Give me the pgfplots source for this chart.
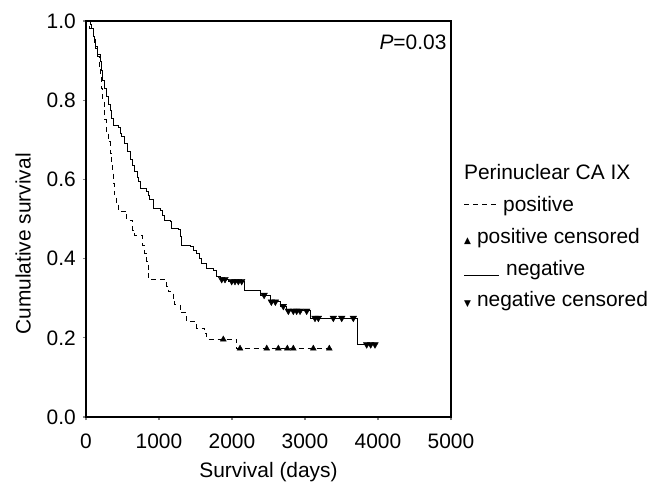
\documentclass[border=0pt]{standalone}
\usepackage{pgfplots}
\pgfplotsset{compat=1.18}
\usepackage{fontspec}
\setmainfont{Liberation Sans}
\newfontfamily\symfont{DejaVu Sans}
\begin{document}
\fontsize{21}{25}\selectfont
\begin{tikzpicture}
\begin{axis}[
  at={(0,0)}, anchor=south west,
  width=365bp, height=396bp, scale only axis,
  xmin=0, xmax=5000, ymin=0, ymax=1,
  xtick={0,1000,2000,3000,4000,5000},
  ytick={0,0.2,0.4,0.6,0.8,1.0},
  xtick pos=left, ytick pos=left,
  tick align=outside, major tick length=3bp,
  tick style={line width=1.2bp},
  axis line style={line width=1.1bp},
  /pgf/number format/assume math mode=true,
  x tick label style={/pgf/number format/1000 sep={}, yshift=-7bp},
  y tick label style={/pgf/number format/.cd, fixed, fixed zerofill, precision=1},
  tick label style={font=\fontsize{21}{25}\selectfont},
  label style={font=\fontsize{21}{25}\selectfont},
  xlabel={Survival (days)},
  ylabel={Cumulative survival},
  xlabel style={at={(axis description cs:0.5,-0.14)}, anchor=center},
  ylabel style={at={(axis description cs:-0.172,0.437)}, anchor=center},
  clip=false,
  legend style={draw=none, fill=none, at={(axis description cs:1.03,0.643)}, anchor=north west,
    font=\fontsize{21}{25}\selectfont, row sep=9.5bp, inner sep=0pt},
  legend cell align=left,
]
\addlegendimage{empty legend}\addlegendentry{Perinuclear CA IX}
\addlegendimage{empty legend}\addlegendentry{\rule[0.3em]{5bp}{1bp}\hspace{4bp}\rule[0.3em]{5bp}{1bp}\hspace{4bp}\rule[0.3em]{5bp}{1bp}\hspace{4bp}\rule[0.3em]{5bp}{1bp}\hspace{7bp}positive}
\addlegendimage{empty legend}\addlegendentry{{\symfont\fontsize{9}{10}\selectfont ▲}\hspace{6bp}positive censored}
\addlegendimage{empty legend}\addlegendentry{\rule[-0.05em]{35bp}{1bp}\hspace{7bp}negative}
\addlegendimage{empty legend}\addlegendentry{{\symfont\fontsize{9}{10}\selectfont ▼}\hspace{6bp}negative censored}

% negative (solid)
\addplot[const plot, black, line width=1bp, forget plot] coordinates {
(0,1.0) (60,0.99) (82,0.98) (100,0.96) (120,0.945) (137,0.93) (160,0.915)
(192,0.897) (210,0.875) (229,0.851) (260,0.83) (284,0.809) (310,0.79)
(329,0.775) (350,0.755) (374,0.737) (443,0.73) (470,0.715) (489,0.708)
(534,0.691) (570,0.67) (603,0.649) (640,0.635) (671,0.62) (700,0.605)
(717,0.594) (740,0.578) (832,0.569) (850,0.56) (867,0.548) (922,0.527)
(1014,0.522) (1050,0.51) (1082,0.497) (1151,0.493) (1174,0.476) (1264,0.474)
(1290,0.455) (1311,0.434) (1425,0.43) (1470,0.42) (1517,0.413) (1560,0.40)
(1585,0.388) (1654,0.376) (1744,0.371) (1791,0.354) (1836,0.348) (1950,0.343)
(2165,0.319) (2384,0.308) (2521,0.291) (2658,0.28) (2750,0.268) (3069,0.25)
(3722,0.183) (3960,0.183)
};
% positive (dashed)
\addplot[const plot, black, line width=1bp, dash pattern=on 5bp off 4bp, forget plot] coordinates {
(0,1.0) (50,0.98) (100,0.96) (130,0.935) (155,0.91) (182,0.884) (201,0.859)
(215,0.83) (229,0.801) (247,0.778) (260,0.75) (274,0.72) (305,0.695)
(329,0.666) (352,0.64) (366,0.615) (374,0.59) (384,0.561) (411,0.539)
(443,0.52) (558,0.497) (640,0.472) (671,0.458) (777,0.434) (808,0.413)
(830,0.392) (853,0.367) (860,0.347) (1106,0.329) (1128,0.316) (1196,0.3)
(1219,0.283) (1288,0.263) (1380,0.24) (1517,0.224) (1630,0.21) (1654,0.196)
(2065,0.173) (3366,0.173)
};
% positive censored
\addplot[only marks, mark=triangle*, mark size=3.4bp, black, forget plot] coordinates {
(1881,0.196) (2110,0.173) (2476,0.173) (2635,0.173) (2758,0.173) (2840,0.173) (3114,0.173) (3333,0.173)
};
% negative censored
\addplot[only marks, mark=triangle*, mark size=3.8bp, black, mark options={rotate=180}, forget plot] coordinates {
(1859,0.348) (1904,0.348) (1996,0.343) (2041,0.343) (2087,0.343) (2133,0.343)
(2440,0.308) (2539,0.291) (2594,0.291) (2703,0.28) (2772,0.268) (2840,0.268)
(2886,0.268) (2932,0.268) (3023,0.268) (3137,0.25) (3183,0.25) (3388,0.25)
(3503,0.25) (3662,0.25) (3845,0.183) (3900,0.183) (3959,0.183)
};
\node[anchor=east, inner sep=0pt] at (axis description cs:0.988,0.947) {\textit{P}=0.03};
\end{axis}
\pgfresetboundingbox
\path[use as bounding box] (-86bp,-71bp) rectangle (572bp,417bp);
\end{tikzpicture}
\end{document}
